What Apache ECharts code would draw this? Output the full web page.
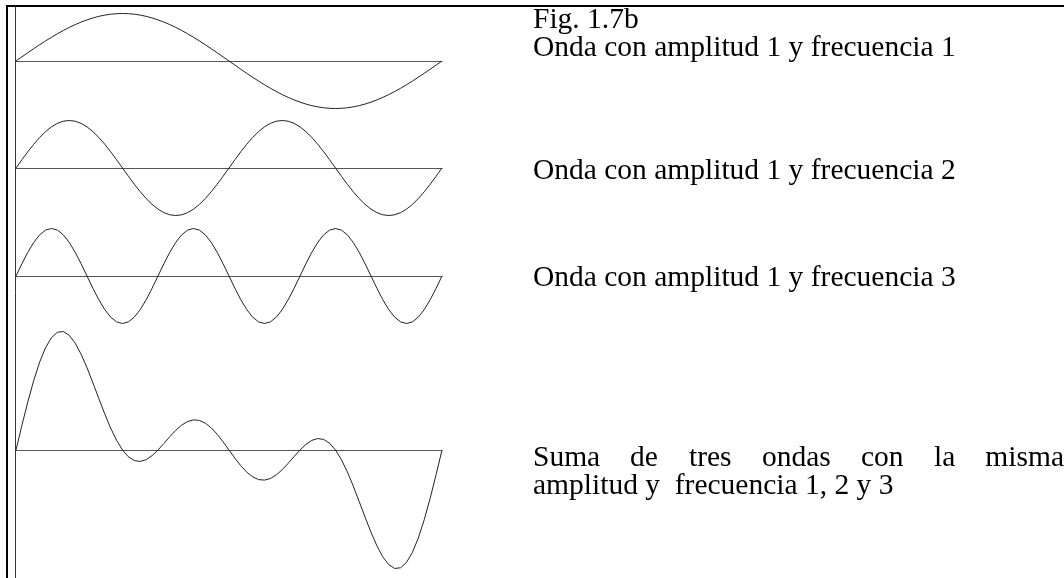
<!DOCTYPE html>
<html>
<head>
<meta charset="utf-8">
<title>Fig. 1.7b</title>
<script src="https://cdn.jsdelivr.net/npm/echarts@6/dist/echarts.min.js"></script>
<style>
  html, body { margin: 0; padding: 0; background: #fff; }
  #main { width: 1064px; height: 578px; }
</style>
</head>
<body>
<div id="main"></div>
<script>
// eje x en grados (un periodo completo de la onda 1), cada 5 grados
const xGrados = [0, 5, 10, 15, 20, 25, 30, 35, 40, 45, 50, 55, 60, 65, 70, 75, 80, 85, 90,
  95, 100, 105, 110, 115, 120, 125, 130, 135, 140, 145, 150, 155, 160, 165, 170, 175, 180,
  185, 190, 195, 200, 205, 210, 215, 220, 225, 230, 235, 240, 245, 250, 255, 260, 265, 270,
  275, 280, 285, 290, 295, 300, 305, 310, 315, 320, 325, 330, 335, 340, 345, 350, 355, 360]

// amplitud 1, frecuencia 1
const onda1 = [0, .087, .174, .259, .342, .423, .5, .574, .643, .707, .766, .819, .866, .906, .94, .966, .985, .996, 1,
  .996, .985, .966, .94, .906, .866, .819, .766, .707, .643, .574, .5, .423, .342, .259, .174, .087, 0,
  -.087, -.174, -.259, -.342, -.423, -.5, -.574, -.643, -.707, -.766, -.819, -.866, -.906, -.94, -.966, -.985, -.996, -1,
  -.996, -.985, -.966, -.94, -.906, -.866, -.819, -.766, -.707, -.643, -.574, -.5, -.423, -.342, -.259, -.174, -.087, 0]

// amplitud 1, frecuencia 2
const onda2 = [0, .174, .342, .5, .643, .766, .866, .94, .985, 1, .985, .94, .866, .766, .643, .5, .342, .174, 0,
  -.174, -.342, -.5, -.643, -.766, -.866, -.94, -.985, -1, -.985, -.94, -.866, -.766, -.643, -.5, -.342, -.174, 0,
  .174, .342, .5, .643, .766, .866, .94, .985, 1, .985, .94, .866, .766, .643, .5, .342, .174, 0,
  -.174, -.342, -.5, -.643, -.766, -.866, -.94, -.985, -1, -.985, -.94, -.866, -.766, -.643, -.5, -.342, -.174, 0]

// amplitud 1, frecuencia 3
const onda3 = [0, .259, .5, .707, .866, .966, 1, .966, .866, .707, .5, .259, 0, -.259, -.5, -.707, -.866, -.966, -1, -.966, -.866, -.707, -.5, -.259,
  0, .259, .5, .707, .866, .966, 1, .966, .866, .707, .5, .259, 0, -.259, -.5, -.707, -.866, -.966, -1, -.966, -.866, -.707, -.5, -.259,
  0, .259, .5, .707, .866, .966, 1, .966, .866, .707, .5, .259, 0, -.259, -.5, -.707, -.866, -.966, -1, -.966, -.866, -.707, -.5, -.259, 0]

// suma de las tres ondas
const suma = [0, .52, 1.016, 1.466, 1.851, 2.155, 2.366, 2.479, 2.494, 2.414, 2.251, 2.018, 1.732, 1.414, 1.083, .759, .461, .204, 0,
  -.143, -.223, -.241, -.203, -.119, 0, .138, .281, .414, .524, .6, .634, .623, .565, .466, .332, .172, 0,
  -.172, -.332, -.466, -.565, -.623, -.634, -.6, -.524, -.414, -.281, -.138, 0, .119, .203, .241, .223, .143, 0,
  -.204, -.461, -.759, -1.083, -1.414, -1.732, -2.018, -2.251, -2.414, -2.494, -2.479, -2.366, -2.155, -1.851, -1.466, -1.016, -.52, 0]

const rangosY = [1, 1, 1, 2.5]

const myChart = echarts.init(document.getElementById('main'))

function pares(valores) {
  return xGrados.map((x, i) => [x, valores[i]])
}

function texto(str, x, y, align) {
  return {
    type: 'text',
    style: {
      text: str,
      x: x,
      y: y,
      align: align || 'left',
      verticalAlign: 'middle',
      font: '29.5px "Liberation Serif", "Times New Roman", serif',
      fill: '#000'
    }
  }
}

// cada onda en su propia rejilla, 47.5 px por unidad
const rejillas = [
  { left: 16, width: 426, top: 13.5, height: 95 },
  { left: 16, width: 426, top: 120.5, height: 95 },
  { left: 16, width: 426, top: 228.5, height: 95 },
  { left: 16, width: 426, top: 331.25, height: 237.5 }
]
const ondas = [onda1, onda2, onda3, suma]

const option = {
  animation: false,
  backgroundColor: '#fff',
  grid: rejillas,
  xAxis: rejillas.map((g, i) => ({
    type: 'value',
    gridIndex: i,
    min: 0,
    max: 360,
    axisLine: { show: true, onZero: true, lineStyle: { color: '#555', width: 1 } },
    axisTick: { show: false },
    axisLabel: { show: false },
    splitLine: { show: false }
  })),
  yAxis: rejillas.map((g, i) => ({
    type: 'value',
    gridIndex: i,
    min: -rangosY[i],
    max: rangosY[i],
    axisLine: { show: false },
    axisTick: { show: false },
    axisLabel: { show: false },
    splitLine: { show: false }
  })),
  series: ondas.map((d, i) => ({
    type: 'line',
    xAxisIndex: i,
    yAxisIndex: i,
    data: pares(d),
    smooth: false,
    showSymbol: false,
    silent: true,
    lineStyle: { color: '#222', width: 1 }
  })),
  graphic: [
    // marco
    { type: 'rect', shape: { x: 6, y: 5, width: 1058, height: 2 }, style: { fill: '#000' } },
    { type: 'rect', shape: { x: 6, y: 5, width: 2, height: 573 }, style: { fill: '#000' } },
    { type: 'line', shape: { x1: 15.5, y1: 7, x2: 15.5, y2: 578 }, style: { stroke: '#333', lineWidth: 1 } },
    texto('Fig. 1.7b', 533, 20),
    texto('Onda con amplitud 1 y frecuencia 1', 533, 48),
    texto('Onda con amplitud 1 y frecuencia 2', 533, 171),
    texto('Onda con amplitud 1 y frecuencia 3', 533, 278),
    texto('Suma', 533, 458),
    texto('de', 630, 458),
    texto('tres', 689, 458),
    texto('ondas', 762, 458),
    texto('con', 861, 458),
    texto('la', 934, 458),
    texto('misma', 1064, 458, 'right'),
    texto('amplitud y  frecuencia 1, 2 y 3', 533, 486)
  ]
}

myChart.setOption(option)
window.addEventListener('resize', function () {
  myChart.resize()
})
</script>
</body>
</html>
